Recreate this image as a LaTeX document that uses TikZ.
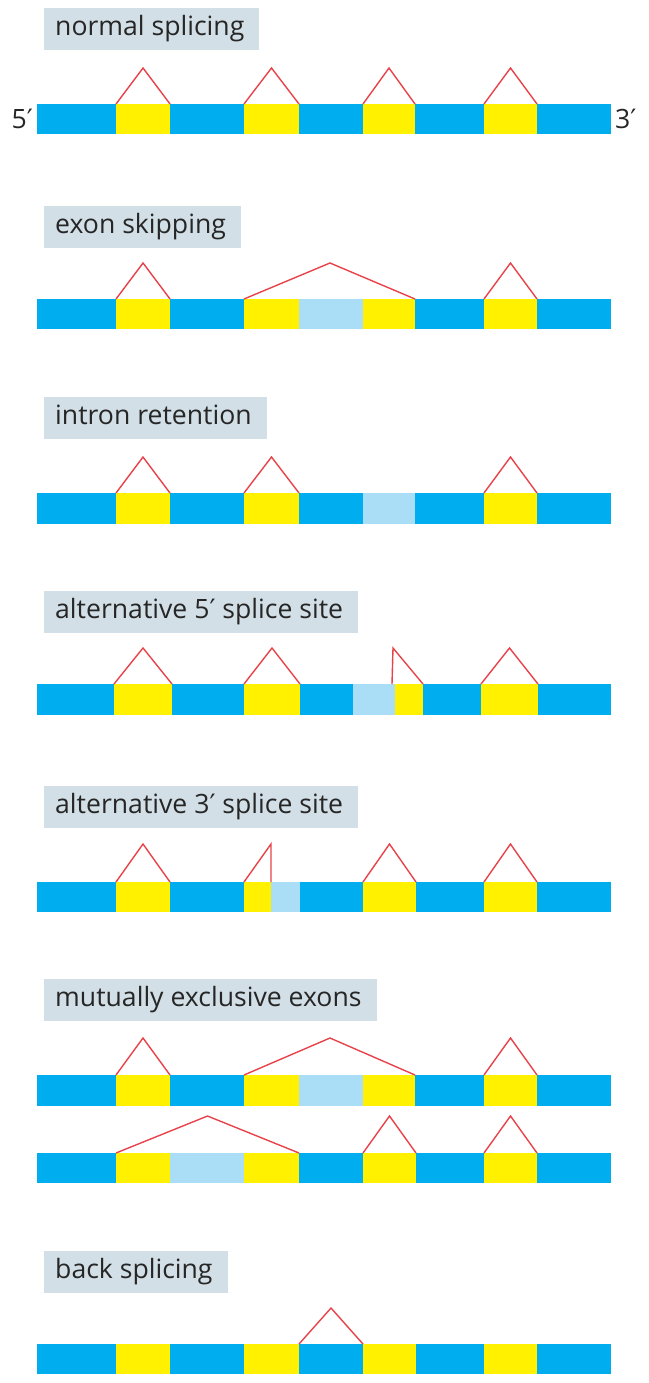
\documentclass[tikz,border=0pt]{standalone}
\usepackage{fontspec}
\setmainfont{Open Sans}
\newfontfamily\primefont{DejaVu Sans}
\newcommand{\prm}{{\primefont ′}}
\definecolor{cb}{HTML}{00AEEF}
\definecolor{cy}{HTML}{FFF100}
\definecolor{cl}{HTML}{A9DEF6}
\definecolor{cr}{HTML}{E8424A}
\definecolor{lbg}{HTML}{D2DFE6}
\definecolor{ltx}{HTML}{262626}
\tikzset{
  seg/.style={draw=none, inner sep=0pt, outer sep=0pt, anchor=north west},
  lbl/.style={fill=lbg, anchor=north west, inner xsep=11pt, inner ysep=0pt, minimum height=42pt,
    text=ltx, font=\fontsize{26.6}{30}\selectfont, text height=19pt, text depth=6pt,
    execute at end node={\hspace{4pt}}},
  endl/.style={text=ltx, font=\fontsize{26.6}{30}\selectfont, inner sep=0pt},
  spl/.style={draw=cr, line width=1.4pt, line join=miter}
}
% #1 row name, #2 top y, #3 height, #4 list a/b/colour
\newcommand{\rnabar}[4]{%
  \foreach \a/\b/\c [count=\i] in {#4} {%
    \pgfmathsetmacro\w{\b-\a}%
    \node[seg, fill=\c, minimum width=\w pt, minimum height=#3pt] (#1s\i) at (\a,#2) {};
  }%
}
\begin{document}
\begin{tikzpicture}[x=1pt,y=-1pt]
\useasboundingbox (0,0) rectangle (648,1383);
% ---------- normal splicing
\node[lbl] (l1) at (44,8) {normal splicing};
\rnabar{r1}{104}{30}{37/116/cb,116/170/cy,170/244/cb,244/299/cy,299/363/cb,363/415/cy,415/484/cb,484/537/cy,537/611/cb}
\node[endl, anchor=east] (p5) at (33,119) {5\prm};
\node[endl, anchor=west] (p3) at (615,119) {3\prm};
\coordinate (r1a) at (143,68);
\coordinate (r1b) at (271.5,68);
\coordinate (r1c) at (389,68);
\coordinate (r1d) at (510.5,68);
\draw[spl] (r1s2.north west) -- (r1a) -- (r1s2.north east);
\draw[spl] (r1s4.north west) -- (r1b) -- (r1s4.north east);
\draw[spl] (r1s6.north west) -- (r1c) -- (r1s6.north east);
\draw[spl] (r1s8.north west) -- (r1d) -- (r1s8.north east);
% ---------- exon skipping
\node[lbl] (l2) at (44,206) {exon skipping};
\rnabar{r2}{299}{30}{37/116/cb,116/170/cy,170/244/cb,244/299/cy,299/363/cl,363/415/cy,415/484/cb,484/537/cy,537/611/cb}
\coordinate (r2a) at (143,263);
\coordinate (r2b) at (330,263);
\coordinate (r2d) at (510.5,263);
\draw[spl] (r2s2.north west) -- (r2a) -- (r2s2.north east);
\draw[spl] (r2s4.north west) -- (r2b) -- (r2s6.north east);
\draw[spl] (r2s8.north west) -- (r2d) -- (r2s8.north east);
% ---------- intron retention
\node[lbl] (l3) at (44,397) {intron retention};
\rnabar{r3}{493}{31}{37/116/cb,116/170/cy,170/244/cb,244/299/cy,299/363/cb,363/415/cl,415/484/cb,484/537/cy,537/611/cb}
\coordinate (r3a) at (143,457);
\coordinate (r3b) at (271.5,457);
\coordinate (r3d) at (510.5,457);
\draw[spl] (r3s2.north west) -- (r3a) -- (r3s2.north east);
\draw[spl] (r3s4.north west) -- (r3b) -- (r3s4.north east);
\draw[spl] (r3s8.north west) -- (r3d) -- (r3s8.north east);
% ---------- alternative 5' splice site
\node[lbl] (l4) at (44,591) {alternative 5\prm\ splice site};
\rnabar{r4}{684}{31}{37/114/cb,114/172/cy,172/244/cb,244/300/cy,300/353/cb,353/395/cl,395/423/cy,423/481/cb,481/538/cy,538/611/cb}
\coordinate (r4a) at (143,648);
\coordinate (r4b) at (272,648);
\coordinate (r4v) at (392,684);
\coordinate (r4c) at (393,648);
\coordinate (r4d) at (509.5,648);
\draw[spl] (r4s2.north west) -- (r4a) -- (r4s2.north east);
\draw[spl] (r4s4.north west) -- (r4b) -- (r4s4.north east);
\draw[spl] (r4v) -- (r4c) -- (r4s7.north east);
\draw[spl] (r4s9.north west) -- (r4d) -- (r4s9.north east);
% ---------- alternative 3' splice site
\node[lbl] (l5) at (44,786) {alternative 3\prm\ splice site};
\rnabar{r5}{882}{30}{37/116/cb,116/170/cy,170/244/cb,244/271/cy,271/300/cl,300/363/cb,363/416/cy,416/484/cb,484/537/cy,537/611/cb}
\coordinate (r5a) at (143,844);
\coordinate (r5b) at (271,844);
\coordinate (r5c) at (389.5,844);
\coordinate (r5d) at (510.5,844);
\draw[spl] (r5s2.north west) -- (r5a) -- (r5s2.north east);
\draw[spl] (r5s4.north west) -- (r5b) -- (r5s4.north east);
\draw[spl] (r5s7.north west) -- (r5c) -- (r5s7.north east);
\draw[spl] (r5s9.north west) -- (r5d) -- (r5s9.north east);
% ---------- mutually exclusive exons
\node[lbl] (l6) at (44,979) {mutually exclusive exons};
\rnabar{r6}{1075}{31}{37/116/cb,116/170/cy,170/244/cb,244/299/cy,299/363/cl,363/415/cy,415/484/cb,484/537/cy,537/611/cb}
\coordinate (r6a) at (143,1038);
\coordinate (r6b) at (330,1038);
\coordinate (r6d) at (510.5,1038);
\draw[spl] (r6s2.north west) -- (r6a) -- (r6s2.north east);
\draw[spl] (r6s4.north west) -- (r6b) -- (r6s6.north east);
\draw[spl] (r6s8.north west) -- (r6d) -- (r6s8.north east);
\rnabar{r7}{1153}{30}{37/116/cb,116/170/cy,170/244/cl,244/299/cy,299/363/cb,363/416/cy,416/484/cb,484/537/cy,537/611/cb}
\coordinate (r7a) at (207.5,1116);
\coordinate (r7c) at (389.5,1116);
\coordinate (r7d) at (510.5,1116);
\draw[spl] (r7s2.north west) -- (r7a) -- (r7s4.north east);
\draw[spl] (r7s6.north west) -- (r7c) -- (r7s6.north east);
\draw[spl] (r7s8.north west) -- (r7d) -- (r7s8.north east);
% ---------- back splicing
\node[lbl] (l7) at (44,1251) {back splicing};
\rnabar{r8}{1344}{30}{37/116/cb,116/170/cy,170/244/cb,244/299/cy,299/363/cb,363/416/cy,416/484/cb,484/537/cy,537/611/cb}
\coordinate (r8a) at (331,1308);
\draw[spl] (r8s5.north west) -- (r8a) -- (r8s5.north east);
\end{tikzpicture}
\end{document}
